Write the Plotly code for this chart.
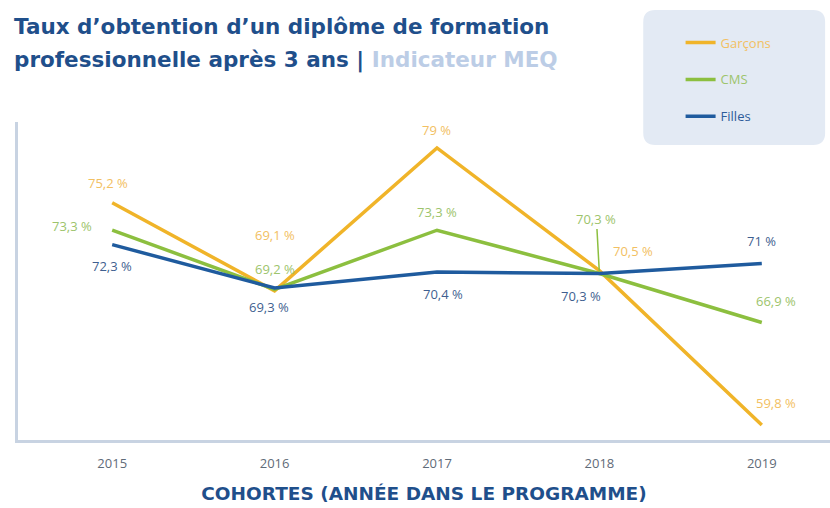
import plotly.graph_objects as go

years = [2015, 2016, 2017, 2018, 2019]
garcons = [75.2, 69.1, 79.0, 70.5, 59.8]
cms = [73.3, 69.2, 73.3, 70.3, 66.9]
filles = [72.3, 69.3, 70.4, 70.3, 71.0]

series_names = ["Garçons", "CMS", "Filles"]
line_colors = ["#F0B429", "#8CBF3F", "#1F5B9E"]
label_colors = ["#F2C062", "#9DC46C", "#3F5F90"]
legend_text_colors = ["#F2C062", "#9DC46C", "#2E5C9A"]

def fmt(v):
    return ("{:g}".format(v)).replace(".", ",") + " %"

# label offsets (xshift, yshift) in pixels per point
offsets = {
    "Garçons": [(-4, 20), (0, 56), (0, 18), (34, 20), (14, 22)],
    "CMS": [(-40, 4), (0, 20), (0, 18), None, (14, 22)],
    "Filles": [(0, -21), (-6, -19), (6, -22), (-18, -22), (0, 22)],
}

fig = go.Figure()
all_series = [garcons, cms, filles]
for i, (name, vals) in enumerate(zip(series_names, all_series)):
    fig.add_trace(go.Scatter(
        x=years, y=vals, mode="lines",
        name=f"<span style='color:{legend_text_colors[i]}'>{name}</span>",
        line=dict(color=line_colors[i], width=3.5),
        legendgroup=name,
        hoverinfo="skip",
    ))

annotations = []
for i, (name, vals) in enumerate(zip(series_names, all_series)):
    for j, (x, y) in enumerate(zip(years, vals)):
        off = offsets[name][j]
        if off is None:
            annotations.append(dict(
                x=x, y=y, xref="x", yref="y", text=fmt(y),
                showarrow=True, arrowhead=0, arrowwidth=1.5,
                arrowcolor=line_colors[i], ax=-3, ay=-55, standoff=2,
                font=dict(family="Open Sans", size=13, color=label_colors[i]),
            ))
        else:
            annotations.append(dict(
                x=x, y=y, xref="x", yref="y", text=fmt(y),
                showarrow=False, xshift=off[0], yshift=off[1],
                font=dict(family="Open Sans", size=13, color=label_colors[i]),
            ))

title_color = "#1F4F8B"
title_font = dict(family="DejaVu Sans", size=21.5, color=title_color)
annotations.append(dict(
    x=-6 / 812, y=(440 - 27) / 318, xref="paper", yref="paper", xanchor="left", yanchor="middle",
    text="<b>Taux d’obtention d’un diplôme de formation</b>", showarrow=False,
    font=title_font,
))
annotations.append(dict(
    x=-6 / 812, y=(440 - 60) / 318, xref="paper", yref="paper", xanchor="left", yanchor="middle",
    text="<b>professionnelle après 3 ans | <span style='color:#BCCDE6'>Indicateur MEQ</span></b>",
    showarrow=False,
    font=title_font,
))

# rounded legend background
x0, x1, y0, y1 = 0.770, 0.994, 0.928, 1.352
rx, ry = 0.0148, 0.0377
path = (f"M {x0+rx},{y0} L {x1-rx},{y0} Q {x1},{y0} {x1},{y0+ry} "
        f"L {x1},{y1-ry} Q {x1},{y1} {x1-rx},{y1} L {x0+rx},{y1} "
        f"Q {x0},{y1} {x0},{y1-ry} L {x0},{y0+ry} Q {x0},{y0} {x0+rx},{y0} Z")

fig.update_layout(
    width=830, height=508,
    margin=dict(l=18, r=0, t=122, b=68),
    paper_bgcolor="white", plot_bgcolor="white",
    showlegend=True,
    legend=dict(
        x=0.816, y=1.297, xanchor="left", yanchor="top",
        bgcolor="rgba(0,0,0,0)", tracegroupgap=17,
        font=dict(family="Open Sans", size=13),
    ),
    shapes=[dict(type="path", path=path, xref="paper", yref="paper",
                 fillcolor="#E3EAF4", line=dict(width=0), layer="below")],
    annotations=annotations,
    xaxis=dict(
        range=[2014.42, 2019.42], tickvals=years, ticktext=[str(y) for y in years],
        showgrid=False, zeroline=False, showline=True, linecolor="#C8D3E2", linewidth=3,
        ticks="", ticklabelstandoff=9,
        tickfont=dict(family="Open Sans", size=13, color="#5F6B78"),
        title=dict(text="<b>COHORTES (ANNÉE DANS LE PROGRAMME)</b>", standoff=17,
                   font=dict(family="DejaVu Sans", size=18.5, color=title_color)),
    ),
    yaxis=dict(
        range=[58.76, 80.8], showgrid=False, zeroline=False, showticklabels=False,
        showline=True, linecolor="#C8D3E2", linewidth=3, ticks="",
    ),
)

fig.write_html("out.html", config={"displayModeBar": False},
               post_script="document.body.style.margin='0';")
